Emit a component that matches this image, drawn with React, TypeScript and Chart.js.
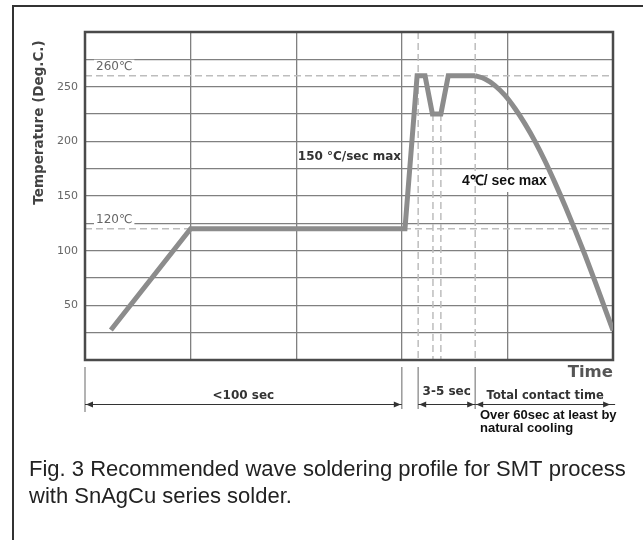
import React, { useEffect, useRef } from 'react';
import { Chart, registerables } from 'chart.js';

Chart.register(...registerables);

// ---- data (time in arbitrary units 0..100, temperature in °C) ----
const profileTime = [4.9, 20, 60.6, 62.9, 64.4, 65.8, 67.4, 68.8, 73.9];
const profileTemp = [27.5, 120, 120, 260, 260, 225, 225, 260, 260];
const coolingTime = [73.86, 75.76, 77.65, 79.55, 81.44, 83.33, 85.23, 87.12, 89.02, 90.91, 92.8, 94.7, 96.59, 98.48, 100];
const coolingTemp = [260, 257, 251, 242, 230, 216, 200, 182, 162, 141, 119, 96, 72, 47, 27];
const yTickLabels = [50, 100, 150, 200, 250];
const refTemps = [260, 120];
const refTempLabels = ['260℃', '120℃'];
const fullDashTimes = [63.1, 73.9];
const dipDashTimes = [65.9, 67.4];
const dipTemp = 225;
const bracketTimes = [0, 60, 63.1, 73.9];
const spanFrom = [0, 63.1, 73.9];
const spanTo = [60, 73.9, 100.4];
const spanLabels = ['<100 sec', '3-5 sec', 'Total contact time'];
const rampLabel = '150 °C/sec max';
const rampLabelAt = [40.3, 186];
const coolLabel = '4℃/ sec max';
const coolLabelAt = [71.4, 163.7];
const noteLines = ['Over 60sec at least by', 'natural cooling'];
const captionLines = [
  'Fig. 3 Recommended wave soldering profile for SMT process',
  'with SnAgCu series solder.',
];

const GOTHIC = '"DejaVu Sans", sans-serif';
const ARIAL = '"Liberation Sans", Arial, sans-serif';

function arrowHead(ctx: CanvasRenderingContext2D, tipX: number, y: number, dir: number) {
  ctx.beginPath();
  ctx.moveTo(tipX, y);
  ctx.lineTo(tipX - dir * 7, y - 3);
  ctx.lineTo(tipX - dir * 7, y + 3);
  ctx.closePath();
  ctx.fill();
}

const annotPlugin = {
  id: 'annot',
  beforeDatasetsDraw(chart: any) {
    const { ctx, chartArea: a, scales } = chart;
    const x = scales.x, y = scales.y;
    ctx.save();
    // white box behind cooling label
    ctx.font = `bold 14px ${ARIAL}`;
    const cx = x.getPixelForValue(coolLabelAt[0]);
    const cy = y.getPixelForValue(coolLabelAt[1]);
    const cw = ctx.measureText(coolLabel).width;
    ctx.fillStyle = '#fff';
    ctx.fillRect(cx - 3, cy - 11, cw + 2, 22);
    // dashed reference lines
    ctx.strokeStyle = '#bdbdbd';
    ctx.lineWidth = 1.5;
    ctx.setLineDash([7, 4]);
    refTemps.forEach((t) => {
      const py = y.getPixelForValue(t);
      ctx.beginPath();
      ctx.moveTo(a.left, py);
      ctx.lineTo(a.right, py);
      ctx.stroke();
    });
    fullDashTimes.forEach((t) => {
      const px = x.getPixelForValue(t);
      ctx.beginPath();
      ctx.moveTo(px, a.top);
      ctx.lineTo(px, a.bottom);
      ctx.stroke();
    });
    dipDashTimes.forEach((t) => {
      const px = x.getPixelForValue(t);
      ctx.beginPath();
      ctx.moveTo(px, y.getPixelForValue(dipTemp));
      ctx.lineTo(px, a.bottom);
      ctx.stroke();
    });
    ctx.setLineDash([]);
    // reference labels
    ctx.font = `12px ${GOTHIC}`;
    ctx.textBaseline = 'middle';
    ctx.textAlign = 'left';
    refTemps.forEach((t, i) => {
      const py = y.getPixelForValue(t) - 9;
      const w = ctx.measureText(refTempLabels[i]).width;
      ctx.fillStyle = '#fff';
      ctx.fillRect(a.left + 9, py - 7, w + 4, 14);
      ctx.fillStyle = '#666';
      ctx.fillText(refTempLabels[i], a.left + 11, py);
    });
    // plot frame
    ctx.strokeStyle = '#4a4a4a';
    ctx.lineWidth = 2.5;
    ctx.strokeRect(a.left, a.top, a.right - a.left, a.bottom - a.top);
    ctx.restore();
  },
  afterDatasetsDraw(chart: any) {
    const { ctx, scales } = chart;
    const x = scales.x, y = scales.y;
    ctx.save();
    ctx.textBaseline = 'middle';
    ctx.textAlign = 'left';
    ctx.fillStyle = '#333';
    ctx.font = `bold 12px ${GOTHIC}`;
    ctx.fillText(rampLabel, x.getPixelForValue(rampLabelAt[0]), y.getPixelForValue(rampLabelAt[1]));
    ctx.fillStyle = '#111';
    ctx.font = `bold 14px ${ARIAL}`;
    ctx.fillText(coolLabel, x.getPixelForValue(coolLabelAt[0]), y.getPixelForValue(coolLabelAt[1]));
    ctx.restore();
  },
  afterDraw(chart: any) {
    const { ctx, chartArea: a, scales } = chart;
    const x = scales.x;
    ctx.save();
    // outer frame
    ctx.strokeStyle = '#333';
    ctx.lineWidth = 2;
    ctx.beginPath();
    ctx.moveTo(13, 540);
    ctx.lineTo(13, 6);
    ctx.lineTo(643, 6);
    ctx.stroke();
    // y axis title
    ctx.save();
    ctx.translate(43, 122.5);
    ctx.rotate(-Math.PI / 2);
    ctx.font = `bold 13.5px ${GOTHIC}`;
    ctx.fillStyle = '#444';
    ctx.textAlign = 'center';
    ctx.textBaseline = 'alphabetic';
    ctx.fillText('Temperature (Deg.C.)', 0, 0);
    ctx.restore();
    // Time
    ctx.font = `bold 16.5px ${GOTHIC}`;
    ctx.fillStyle = '#555';
    ctx.textAlign = 'right';
    ctx.textBaseline = 'middle';
    ctx.fillText('Time', a.right, a.bottom + 13);
    // bracket lines
    ctx.strokeStyle = '#9a9a9a';
    ctx.lineWidth = 1.5;
    bracketTimes.forEach((t, i) => {
      const px = x.getPixelForValue(t);
      ctx.beginPath();
      ctx.moveTo(px, a.bottom + 7);
      ctx.lineTo(px, a.bottom + (i === 0 ? 52 : 49));
      ctx.stroke();
    });
    // arrows + labels
    ctx.strokeStyle = '#333';
    ctx.fillStyle = '#333';
    ctx.lineWidth = 1;
    spanFrom.forEach((f, i) => {
      const p1 = x.getPixelForValue(f);
      const p2 = x.getPixelForValue(spanTo[i]);
      const ay = a.bottom + 44.5;
      ctx.beginPath();
      ctx.moveTo(p1, ay);
      ctx.lineTo(p2, ay);
      ctx.stroke();
      arrowHead(ctx, p1 + 1, ay, -1);
      arrowHead(ctx, i === 2 ? p2 - 5 : p2 - 1, ay, 1);
      ctx.font = i === 2 ? `bold 11.5px ${GOTHIC}` : `bold 12px ${GOTHIC}`;
      ctx.textAlign = 'center';
      ctx.textBaseline = 'middle';
      ctx.fillText(spanLabels[i], (p1 + p2) / 2, a.bottom + (i === 1 ? 32 : 36));
    });
    // note
    ctx.fillStyle = '#111';
    ctx.font = `bold 13px ${ARIAL}`;
    ctx.textAlign = 'left';
    noteLines.forEach((l, i) => ctx.fillText(l, 480, a.bottom + 55 + i * 13));
    // caption
    ctx.fillStyle = '#222';
    ctx.font = `22px ${ARIAL}`;
    ctx.textBaseline = 'alphabetic';
    captionLines.forEach((l, i) => ctx.fillText(l, 29, 476 + i * 27));
    ctx.restore();
  },
};

export default function App() {
  const ref = useRef<HTMLCanvasElement | null>(null);
  useEffect(() => {
    if (!ref.current) return;
    const chart = new Chart(ref.current, {
      type: 'line',
      data: {
        datasets: [
          {
            data: profileTime.map((t, i) => ({ x: t, y: profileTemp[i] })),
            borderColor: '#8c8c8c',
            borderWidth: 5,
            pointRadius: 0,
            tension: 0,
            borderJoinStyle: 'miter',
            fill: false,
          },
          {
            data: coolingTime.map((t, i) => ({ x: t, y: coolingTemp[i] })),
            borderColor: '#8c8c8c',
            borderWidth: 5,
            pointRadius: 0,
            cubicInterpolationMode: 'monotone',
            fill: false,
          },
        ],
      },
      options: {
        responsive: false,
        animation: false,
        layout: { padding: { left: 0, top: 32, right: 30, bottom: 180 } },
        plugins: { legend: { display: false }, tooltip: { enabled: false } },
        events: [],
        scales: {
          x: {
            type: 'linear',
            min: 0,
            max: 100,
            ticks: { display: false, stepSize: 20 },
            grid: { color: '#808080', lineWidth: 1.3, drawTicks: false },
            border: { display: false },
            afterFit: (s: any) => { s.height = 0; },
          },
          y: {
            min: 0,
            max: 300,
            ticks: {
              stepSize: 25,
              padding: 7,
              color: '#666',
              font: { family: 'DejaVu Sans', size: 11 },
              callback: (v: any) => (yTickLabels.includes(Number(v)) ? String(v) : ''),
            },
            grid: { color: '#808080', lineWidth: 1.3, drawTicks: false },
            border: { display: false },
            afterFit: (s: any) => { s.width = 85; },
          },
        },
      },
      plugins: [annotPlugin],
    } as any);
    return () => chart.destroy();
  }, []);
  return (
    <div style={{ position: 'absolute', left: 0, top: 0, width: 643, height: 540, background: '#fff' }}>
      <canvas ref={ref} width={643} height={540} style={{ display: 'block' }} />
    </div>
  );
}
